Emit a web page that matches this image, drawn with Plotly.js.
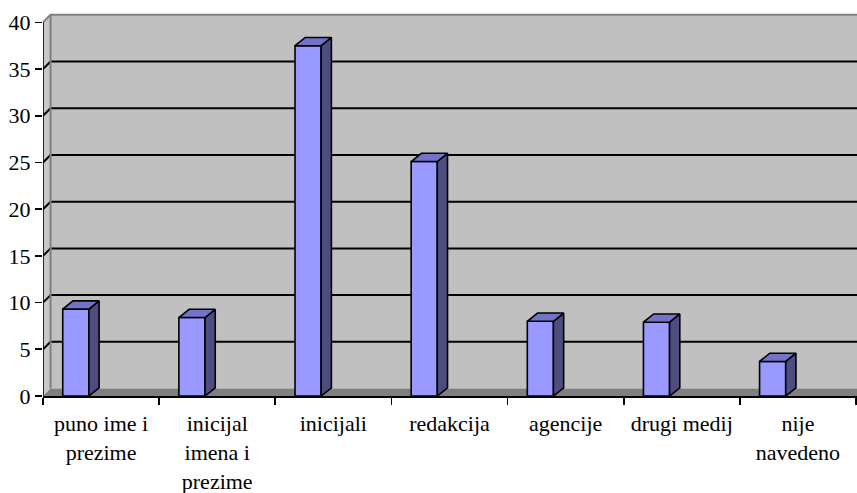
<!DOCTYPE html>
<html>
<head>
<meta charset="utf-8">
<script src="https://cdn.plot.ly/plotly-3.0.1.min.js"></script>
<style>html,body{margin:0;padding:0;background:#fff}#chart{width:857px;height:493px}</style>
</head>
<body>
<div id="chart"></div>
<script>
// ---- data ----
var categories = ["puno ime i<br>prezime", "inicijal<br>imena i<br>prezime", "inicijali", "redakcija", "agencije", "drugi medij", "nije<br>navedeno"];
var values = [9.3, 8.4, 37.5, 25.1, 8.0, 7.9, 3.7];
var yTicks = [0, 5, 10, 15, 20, 25, 30, 35, 40];

// ---- geometry (in axis units) ----
var XMAX = 814 / 116.14;
var barL = 0.17, barR = 0.395;       // front face within a category
var dx = 0.088, dy = 0.88;           // bar depth offset
var wdx = 0.065, wdy = 0.8;          // wall depth offset

var font = {family: "Liberation Serif", size: 22, color: "#000"};

var traces = [];
// front faces
traces.push({
  type: "bar",
  x: values.map(function(v, i){ return i + (barL + barR) / 2; }),
  y: values,
  width: barR - barL,
  marker: {color: "#9999FF", line: {color: "#000", width: 1.6}},
  hoverinfo: "skip"
});
// side + top faces
values.forEach(function(v, i){
  var xl = i + barL, xr = i + barR;
  traces.push({
    type: "scatter", mode: "lines", fill: "toself", fillcolor: "#4D4D80",
    x: [xr, xr + dx, xr + dx, xr, xr], y: [0, dy, v + dy, v, 0],
    line: {color: "#000", width: 1.6}, hoverinfo: "skip"
  });
  traces.push({
    type: "scatter", mode: "lines", fill: "toself", fillcolor: "#7373C8",
    x: [xl, xl + dx, xr + dx, xr, xl], y: [v, v + dy, v + dy, v, v],
    line: {color: "#000", width: 1.6}, hoverinfo: "skip"
  });
});

var shapes = [];
// back wall
shapes.push({type: "rect", xref: "x", yref: "y", x0: wdx, x1: XMAX, y0: wdy, y1: 40 + wdy,
  fillcolor: "#C0C0C0", line: {width: 0}, layer: "below"});
// left wall
shapes.push({type: "path", xref: "x", yref: "y",
  path: "M 0,0 L 0,40 L " + wdx + "," + (40 + wdy) + " L " + wdx + "," + wdy + " Z",
  fillcolor: "#C8C8C8", line: {width: 0}, layer: "below"});
// floor
shapes.push({type: "path", xref: "x", yref: "y",
  path: "M 0,0 L " + wdx + "," + wdy + " L " + XMAX + "," + wdy + " L " + XMAX + ",0 Z",
  fillcolor: "#7F7F7F", line: {width: 0}, layer: "below"});
// gridlines on walls
yTicks.forEach(function(t){
  if (t === 0 || t === 40) return;
  shapes.push({type: "line", xref: "x", yref: "y", x0: 0, y0: t, x1: wdx, y1: t + wdy,
    line: {color: "#000", width: 2}, layer: "below"});
  shapes.push({type: "line", xref: "x", yref: "y", x0: wdx, y0: t + wdy, x1: XMAX, y1: t + wdy,
    line: {color: "#000", width: 2}, layer: "below"});
});
// wall edges
shapes.push({type: "line", xref: "x", yref: "y", x0: wdx, y0: wdy, x1: wdx, y1: 40 + wdy,
  line: {color: "#808080", width: 2}, layer: "below"});
shapes.push({type: "path", xref: "x", yref: "y",
  path: "M 0,40 L " + wdx + "," + (40 + wdy) + " L " + XMAX + "," + (40 + wdy),
  line: {color: "#808080", width: 2}, layer: "below"});
// y axis line
shapes.push({type: "line", xref: "x", yref: "y", x0: 0, y0: 0, x1: 0, y1: 40,
  line: {color: "#000", width: 1.6}});

var layout = {
  width: 857, height: 493,
  margin: {l: 43, r: 0, t: 13.35, b: 96.5, pad: 0},
  paper_bgcolor: "#fff", plot_bgcolor: "#fff",
  showlegend: false,
  font: font,
  xaxis: {
    range: [0, XMAX], fixedrange: true,
    tickmode: "array",
    tickvals: categories.map(function(c, i){ return i + 0.5; }),
    ticktext: categories,
    ticks: "", showgrid: false, zeroline: false,
    showline: true, linecolor: "#000", linewidth: 2,
    tickfont: font, ticklabelstandoff: 7,
    minor: {tickmode: "linear", tick0: 0, dtick: 1, ticks: "outside", ticklen: 7, tickwidth: 1.6, tickcolor: "#000", showgrid: false}
  },
  yaxis: {
    range: [0, 41], fixedrange: true,
    tickmode: "array", tickvals: yTicks, ticktext: yTicks.map(String),
    ticks: "outside", ticklen: 7, tickwidth: 1.6, tickcolor: "#000",
    showgrid: false, zeroline: false, showline: false,
    tickfont: font, ticklabelstandoff: 0
  },
  shapes: shapes,
  bargap: 0
};

Plotly.newPlot("chart", traces, layout, {staticPlot: true, displayModeBar: false});
</script>
</body>
</html>
